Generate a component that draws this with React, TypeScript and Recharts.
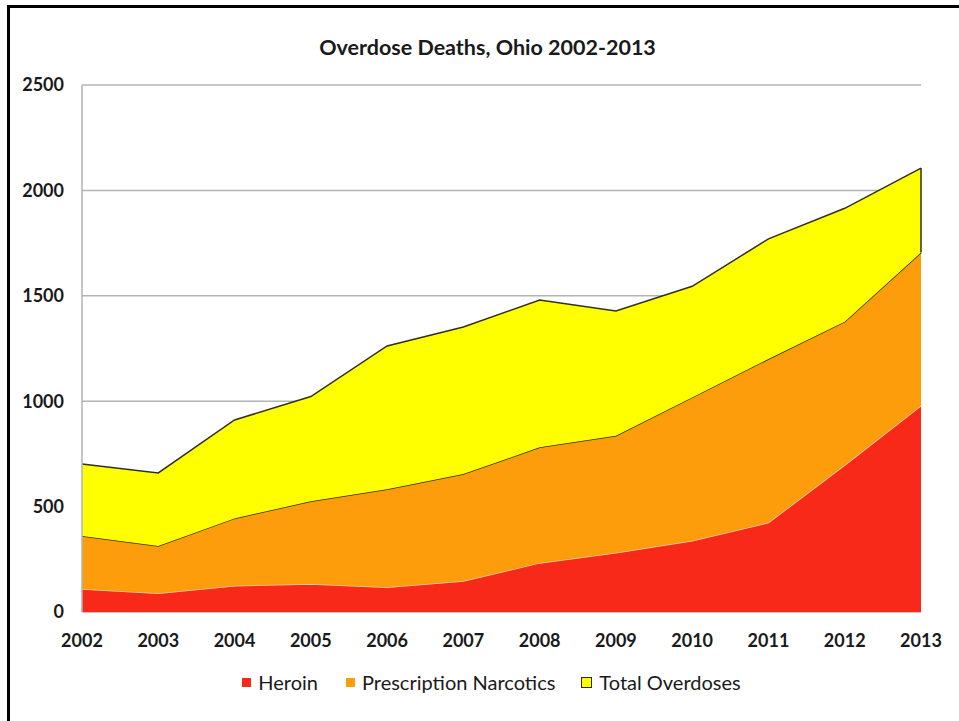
import React from 'react';
import {
  AreaChart,
  Area,
  XAxis,
  YAxis,
  CartesianGrid,
  Legend,
  ReferenceLine,
} from 'recharts';

// Ohio overdose deaths by year
const years = ['2002', '2003', '2004', '2005', '2006', '2007', '2008', '2009', '2010', '2011', '2012', '2013'];
const heroin = [109, 89, 125, 133, 117, 147, 233, 281, 338, 424, 697, 979];
const prescriptionNarcotics = [251, 224, 319, 392, 465, 508, 548, 555, 680, 776, 680, 726];
const totalOverdoses = [702, 660, 911, 1022, 1262, 1352, 1480, 1428, 1545, 1770, 1915, 2106];
const yTicks = [0, 500, 1000, 1500, 2000, 2500];

const seriesNames = ['Heroin', 'Prescription Narcotics', 'Total Overdoses'];
const seriesColors = ['#f9291a', '#fd9d0b', '#ffff00'];

// Stack: heroin, then narcotics on top, then the remainder up to the total
const data = years.map((year, i) => ({
  year,
  heroin: heroin[i],
  rx: prescriptionNarcotics[i],
  other: totalOverdoses[i] - heroin[i] - prescriptionNarcotics[i],
}));

const lastIdx = years.length - 1;
const lastStackBase = heroin[lastIdx] + prescriptionNarcotics[lastIdx];

const FONT = 'Lato, "Open Sans", sans-serif';

const LegendContent = () => (
  <div
    style={{
      display: 'flex',
      justifyContent: 'center',
      alignItems: 'center',
      fontFamily: FONT,
      fontSize: 20,
      color: '#1a1a1a',
      paddingLeft: 50,
    }}
  >
    {seriesNames.map((name, i) => (
      <div key={name} style={{ display: 'flex', alignItems: 'center', marginRight: i === 0 ? 28 : i === 1 ? 26 : 0 }}>
        <span
          style={{
            display: 'inline-block',
            width: 9,
            height: 9,
            background: seriesColors[i],
            border: i === 2 ? '1.5px solid #2b2b1a' : 'none',
            marginRight: 7,
          }}
        />
        <span>{name}</span>
      </div>
    ))}
  </div>
);

export default function App() {
  return (
    <div style={{ position: 'absolute', left: 0, top: 0, width: 959, height: 721, background: '#fff', overflow: 'hidden' }}>
      <div
        style={{
          position: 'absolute',
          left: 7,
          top: 5,
          width: 1000,
          height: 800,
          borderTop: '3px solid #000',
          borderLeft: '3px solid #000',
        }}
      />
      <div
        style={{
          position: 'absolute',
          left: 0,
          top: 34,
          width: 975,
          textAlign: 'center',
          fontFamily: FONT,
          fontWeight: 700,
          fontSize: 21.5,
          color: '#1a1a1a',
        }}
      >
        Overdose Deaths, Ohio 2002-2013
      </div>
      <div style={{ position: 'absolute', left: 0, top: 0 }}>
        <AreaChart
          width={959}
          height={721}
          data={data}
          margin={{ top: 85, right: 38, left: 12, bottom: 34 }}
        >
          <CartesianGrid vertical={false} stroke="#b3b3b3" strokeWidth={1.5} />
          <XAxis
            dataKey="year"
            axisLine={false}
            tickLine={false}
            height={45}
            tick={{ fontFamily: FONT, fontWeight: 700, fontSize: 18, fill: '#1a1a1a' }}
            dy={14}
            interval={0}
          />
          <YAxis
            domain={[0, 2500]}
            ticks={yTicks}
            width={70}
            axisLine={{ stroke: '#b3b3b3', strokeWidth: 1.5 }}
            tickLine={false}
            tick={{ fontFamily: FONT, fontWeight: 700, fontSize: 18, fill: '#1a1a1a' }}
            dx={-10}
          />
          <Area
            type="linear"
            dataKey="heroin"
            name={seriesNames[0]}
            stackId="deaths"
            fill={seriesColors[0]}
            fillOpacity={1}
            stroke="#f8cfae"
            strokeWidth={1.5}
            isAnimationActive={false}
          />
          <Area
            type="linear"
            dataKey="rx"
            name={seriesNames[1]}
            stackId="deaths"
            fill={seriesColors[1]}
            fillOpacity={1}
            stroke="#2f2f1c"
            strokeWidth={1.5}
            isAnimationActive={false}
          />
          <Area
            type="linear"
            dataKey="other"
            name={seriesNames[2]}
            stackId="deaths"
            fill={seriesColors[2]}
            fillOpacity={1}
            stroke="#2f2f1c"
            strokeWidth={1.5}
            isAnimationActive={false}
          />
          <ReferenceLine
            segment={[
              { x: years[lastIdx], y: lastStackBase },
              { x: years[lastIdx], y: totalOverdoses[lastIdx] },
            ]}
            stroke="#2f2f1c"
            strokeWidth={1.5}
          />
          <Legend
            verticalAlign="bottom"
            height={30}
            content={<LegendContent />}
            wrapperStyle={{ bottom: 21 }}
          />
        </AreaChart>
      </div>
    </div>
  );
}
